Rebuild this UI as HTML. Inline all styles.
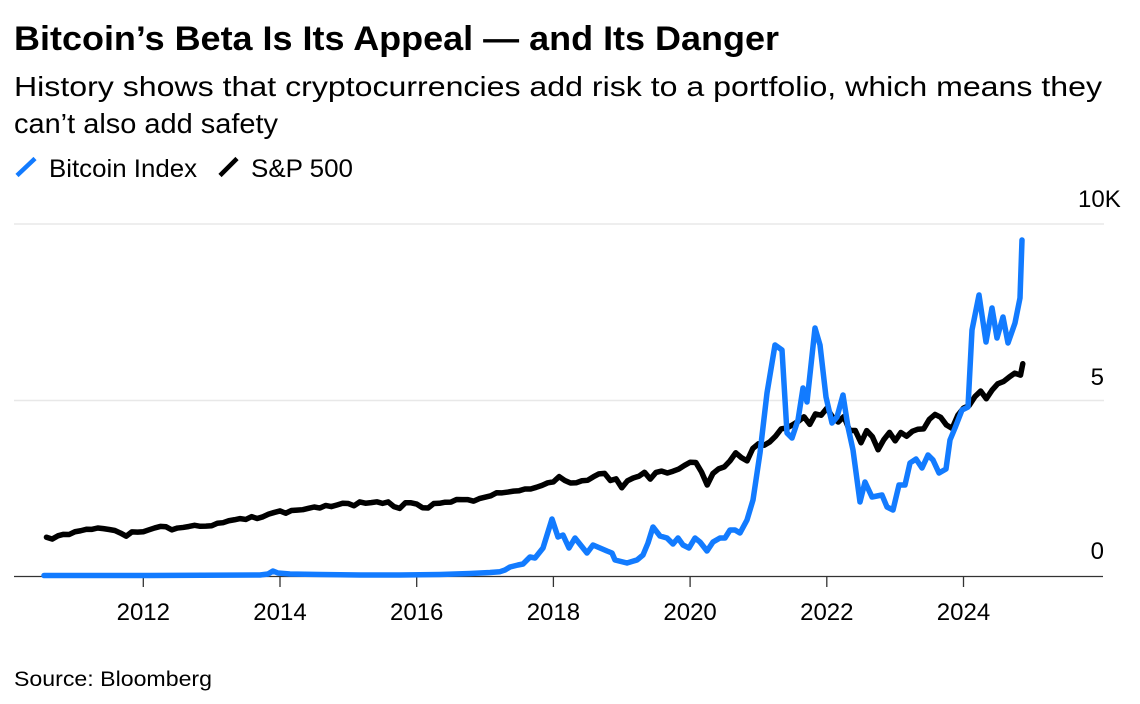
<!DOCTYPE html>
<html>
<head>
<meta charset="utf-8">
<style>
  html, body { margin:0; padding:0; background:#fff; }
  svg { display:block; }
  text { font-family: "Liberation Sans", "DejaVu Sans", sans-serif; fill:#000; }
</style>
</head>
<body>
<svg width="1140" height="704" viewBox="0 0 1140 704" xmlns="http://www.w3.org/2000/svg">
  <rect x="0" y="0" width="1140" height="704" fill="#fff"/>

  <!-- Title -->
  <text x="14" y="50" font-size="34" font-weight="bold" textLength="765" lengthAdjust="spacingAndGlyphs">Bitcoin’s Beta Is Its Appeal — and Its Danger</text>
  <!-- Subtitle -->
  <text x="14" y="96" font-size="27.5" textLength="1088" lengthAdjust="spacingAndGlyphs">History shows that cryptocurrencies add risk to a portfolio, which means they</text>
  <text x="14" y="133" font-size="27.5" textLength="264" lengthAdjust="spacingAndGlyphs">can’t also add safety</text>

  <!-- Legend -->
  <line x1="17" y1="175.5" x2="35" y2="158.5" stroke="#127bff" stroke-width="4.5" stroke-linecap="butt"/>
  <text x="49" y="177" font-size="25" textLength="148" lengthAdjust="spacingAndGlyphs">Bitcoin Index</text>
  <line x1="220" y1="175.5" x2="237" y2="158.5" stroke="#000" stroke-width="4.5" stroke-linecap="butt"/>
  <text x="251" y="177" font-size="25" textLength="102" lengthAdjust="spacingAndGlyphs">S&amp;P 500</text>

  <!-- Gridlines -->
  <line x1="14" y1="224" x2="1104" y2="224" stroke="#e8e8e8" stroke-width="1.5"/>
  <line x1="14" y1="400.5" x2="1104" y2="400.5" stroke="#e8e8e8" stroke-width="1.5"/>

  <!-- Y labels -->
  <text x="1078" y="207" font-size="24">10K</text>
  <text x="1104" y="385" font-size="24" text-anchor="end">5</text>
  <text x="1104" y="559" font-size="24" text-anchor="end">0</text>

  <!-- Baseline & ticks -->
  <line x1="14" y1="576.5" x2="1103" y2="576.5" stroke="#333" stroke-width="1.3"/>
  <g stroke="#333" stroke-width="1.3">
    <line x1="143.3" y1="576" x2="143.3" y2="587"/>
    <line x1="280" y1="576" x2="280" y2="587"/>
    <line x1="416.7" y1="576" x2="416.7" y2="587"/>
    <line x1="553.4" y1="576" x2="553.4" y2="587"/>
    <line x1="690.1" y1="576" x2="690.1" y2="587"/>
    <line x1="826.8" y1="576" x2="826.8" y2="587"/>
    <line x1="963.5" y1="576" x2="963.5" y2="587"/>
  </g>
  <g font-size="24" text-anchor="middle">
    <text x="143.3" y="620">2012</text>
    <text x="280" y="620">2014</text>
    <text x="416.7" y="620">2016</text>
    <text x="553.4" y="620">2018</text>
    <text x="690.1" y="620">2020</text>
    <text x="826.8" y="620">2022</text>
    <text x="963.5" y="620">2024</text>
  </g>

  <!-- S&P 500 -->
  <g transform="translate(46.48,576) scale(5.696,-0.0352)">
    <polyline fill="none" stroke="#000" stroke-width="5.5" stroke-linejoin="round" stroke-linecap="round" vector-effect="non-scaling-stroke"
      points="0,1101.6 1,1049.3 2,1141.2 3,1183.3 4,1180.6 5,1257.6
      6,1286.1 7,1327.2 8,1325.8 9,1363.6 10,1345.2 11,1320.6 12,1292.3 13,1218.9 14,1131.4 15,1253.3 16,1247.0 17,1257.6
      18,1312.4 19,1365.7 20,1408.5 21,1397.9 22,1310.3 23,1362.2 24,1379.3 25,1406.6 26,1440.7 27,1412.2 28,1416.2 29,1426.2
      30,1498.1 31,1514.7 32,1569.2 33,1597.6 34,1630.7 35,1606.3 36,1685.7 37,1633.0 38,1681.6 39,1756.5 40,1805.8 41,1848.4
      42,1782.6 43,1859.5 44,1872.3 45,1883.9 46,1923.6 47,1960.2 48,1930.7 49,2003.4 50,1972.3 51,2018.1 52,2067.6 53,2058.9
      54,1995.0 55,2104.5 56,2067.9 57,2085.5 58,2107.4 59,2063.1 60,2103.8 61,1972.2 62,1920.0 63,2079.4 64,2080.4 65,2043.9
      66,1940.2 67,1932.2 68,2059.7 69,2065.3 70,2096.9 71,2098.9 72,2173.6 73,2170.9 74,2168.3 75,2126.2 76,2199.0 77,2238.8
      78,2278.9 79,2363.6 80,2362.7 81,2384.2 82,2411.8 83,2423.4 84,2470.3 85,2471.7 86,2519.4 87,2575.3 88,2647.6 89,2673.6
      90,2823.8 91,2713.8 92,2640.9 93,2648.1 94,2705.3 95,2718.4 96,2816.3 97,2901.5 98,2914.0 99,2711.7 100,2760.2 101,2506.9
      102,2704.1 103,2784.5 104,2834.4 105,2945.8 106,2752.1 107,2941.8 108,2980.4 109,2926.5 110,2976.7 111,3037.6 112,3141.0 113,3230.8
      114,3225.5 115,2954.2 116,2584.6 117,2912.4 118,3044.3 119,3100.3 120,3271.1 121,3500.3 122,3363.0 123,3270.0 124,3621.6 125,3756.1
      126,3714.2 127,3811.2 128,3972.9 129,4181.2 130,4204.1 131,4297.5 132,4395.3 133,4522.7 134,4307.5 135,4605.4 136,4567.0 137,4766.2
      138,4515.6 139,4373.9 140,4530.4 141,4131.9 142,4132.2 143,3785.4 144,4130.3 145,3955.0 146,3585.6 147,3872.0 148,4080.1 149,3839.5
      150,4076.6 151,3970.2 152,4109.3 153,4169.5 154,4179.8 155,4450.4 156,4589.0 157,4507.7 158,4288.1 159,4193.8 160,4567.8 161,4769.8
      162,4845.7 163,5096.3 164,5254.4 165,5035.7 166,5277.5 167,5460.5 168,5522.3 169,5648.4 170,5762.5 171,5705.5 171.4,6030"/>
  </g>

  <!-- Bitcoin Index -->
  <polyline fill="none" stroke="#127bff" stroke-width="5.5" stroke-linejoin="round" stroke-linecap="round"
    points="44,575.5 150,575.5 260,575 268,574 273,571 278,573 290,574 320,574.5 360,575 400,575 440,574.5 470,573.5 490,572.5 500,571.7 505,570 510,567 518,565 523,564 530,557 535,558 543,548 552,519 558,537 563,535 569,548 575,538 587,553 593,545 607,551 612,553 615,560 627,563 637,560 643,555 648,543 653,527 660,536 667,538 673,544 678,538 683,545 689,548 695,538 700,542 707,551 713,542 720,538 725,538 730,530 735,530 740,533 747,520 753,500 760,453 767,393 775,345 782,350 787,433 792,438 798,420 803,388 807,402 815,328 820,345 826,397 832,423 837,417 843,395 848,427 853,450 860,502 865,482 872,497 882,495 887,507 893,510 899,485 905,485 910,463 916,459 922,468 928,455 933,460 939,473 946,469 950,440 955,428 962,410 968,407 972,330 979,295 986,342 992,308 997,338 1003,317 1008,343 1015,323 1020,298 1022,240"/>

  <!-- Source -->
  <text x="14" y="686" font-size="21.5" textLength="198" lengthAdjust="spacingAndGlyphs">Source: Bloomberg</text>
</svg>
</body>
</html>
